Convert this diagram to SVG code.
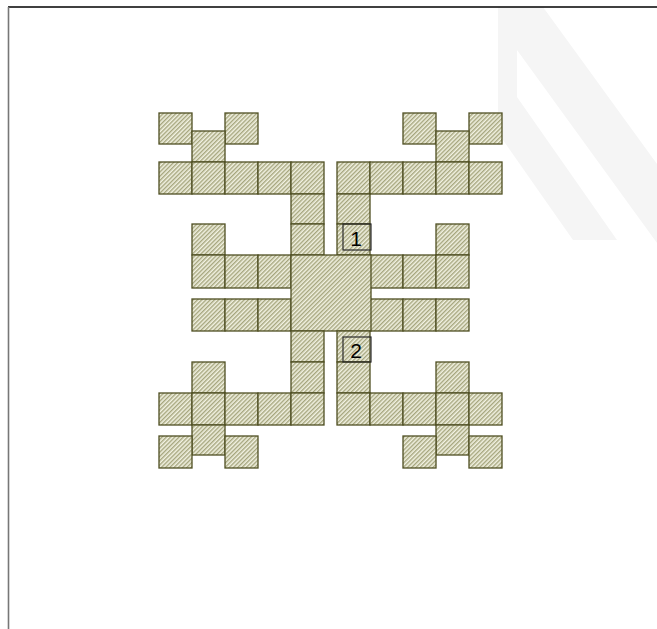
<svg xmlns="http://www.w3.org/2000/svg" width="657" height="629" viewBox="0 0 657 629">
<defs>
<pattern id="hatch" patternUnits="userSpaceOnUse" width="3" height="3" patternTransform="rotate(45)">
<rect width="3" height="3" fill="#f2f2e2"/>
<rect x="0" y="0" width="1.4" height="3" fill="#a5a57d"/>
</pattern>
</defs>
<style>
.c{fill:url(#hatch);stroke:#4f4f22;stroke-width:1.3}
.lb{fill:none;stroke:#2a2a2a;stroke-width:1.2}
.t{font-family:"Liberation Sans",Arial,sans-serif;font-size:21px;fill:#000;text-anchor:middle}
</style>
<rect width="657" height="629" fill="#fff"/>
<polygon points="498,7 543,7 657,164 657,243 517,50 517,97 617,240 573,240 498,133" fill="#f5f5f5"/>
<line x1="8" y1="7" x2="657" y2="7" stroke="#000" stroke-width="1.4"/>
<line x1="8.5" y1="7" x2="8.5" y2="629" stroke="#777" stroke-width="1.6"/>
<g id="top-left">
<rect class="c" x="159" y="113" width="33" height="31"/>
<rect class="c" x="225" y="113" width="33" height="31"/>
<rect class="c" x="192" y="131" width="33" height="31"/>
<rect class="c" x="159" y="162" width="33" height="32"/>
<rect class="c" x="192" y="162" width="33" height="32"/>
<rect class="c" x="225" y="162" width="33" height="32"/>
<rect class="c" x="258" y="162" width="33" height="32"/>
<rect class="c" x="291" y="162" width="33" height="32"/>
<rect class="c" x="291" y="194" width="33" height="30"/>
<rect class="c" x="291" y="224" width="33" height="31"/>
</g>
<g id="top-right">
<rect class="c" x="403" y="113" width="33" height="31"/>
<rect class="c" x="469" y="113" width="33" height="31"/>
<rect class="c" x="436" y="131" width="33" height="31"/>
<rect class="c" x="337" y="162" width="33" height="32"/>
<rect class="c" x="370" y="162" width="33" height="32"/>
<rect class="c" x="403" y="162" width="33" height="32"/>
<rect class="c" x="436" y="162" width="33" height="32"/>
<rect class="c" x="469" y="162" width="33" height="32"/>
<rect class="c" x="337" y="194" width="33" height="30"/>
<rect class="c" x="337" y="224" width="33" height="31"/>
</g>
<g id="middle">
<rect class="c" x="192" y="224" width="33" height="31"/>
<rect class="c" x="436" y="224" width="33" height="31"/>
<rect class="c" x="192" y="255" width="33" height="33"/>
<rect class="c" x="225" y="255" width="33" height="33"/>
<rect class="c" x="258" y="255" width="33" height="33"/>
<rect class="c" x="370" y="255" width="33" height="33"/>
<rect class="c" x="403" y="255" width="33" height="33"/>
<rect class="c" x="436" y="255" width="33" height="33"/>
<rect class="c" x="192" y="299" width="33" height="32"/>
<rect class="c" x="225" y="299" width="33" height="32"/>
<rect class="c" x="258" y="299" width="33" height="32"/>
<rect class="c" x="370" y="299" width="33" height="32"/>
<rect class="c" x="403" y="299" width="33" height="32"/>
<rect class="c" x="436" y="299" width="33" height="32"/>
<rect class="c" x="291" y="255" width="80" height="76"/>
<rect class="c" x="192" y="362" width="33" height="31"/>
<rect class="c" x="436" y="362" width="33" height="31"/>
</g>
<g id="bottom-left">
<rect class="c" x="291" y="331" width="33" height="31"/>
<rect class="c" x="291" y="362" width="33" height="31"/>
<rect class="c" x="159" y="393" width="33" height="32"/>
<rect class="c" x="192" y="393" width="33" height="32"/>
<rect class="c" x="225" y="393" width="33" height="32"/>
<rect class="c" x="258" y="393" width="33" height="32"/>
<rect class="c" x="291" y="393" width="33" height="32"/>
<rect class="c" x="192" y="425" width="33" height="30"/>
<rect class="c" x="159" y="436" width="33" height="32"/>
<rect class="c" x="225" y="436" width="33" height="32"/>
</g>
<g id="bottom-right">
<rect class="c" x="337" y="331" width="33" height="31"/>
<rect class="c" x="337" y="362" width="33" height="31"/>
<rect class="c" x="337" y="393" width="33" height="32"/>
<rect class="c" x="370" y="393" width="33" height="32"/>
<rect class="c" x="403" y="393" width="33" height="32"/>
<rect class="c" x="436" y="393" width="33" height="32"/>
<rect class="c" x="469" y="393" width="33" height="32"/>
<rect class="c" x="436" y="425" width="33" height="30"/>
<rect class="c" x="403" y="436" width="33" height="32"/>
<rect class="c" x="469" y="436" width="33" height="32"/>
</g>
<g id="label-1">
<rect class="lb" x="343" y="224" width="28" height="26"/>
<text class="t" x="356" y="246">1</text>
</g>
<g id="label-2">
<rect class="lb" x="343" y="337" width="28" height="25"/>
<text class="t" x="356" y="358">2</text>
</g>
</svg>
